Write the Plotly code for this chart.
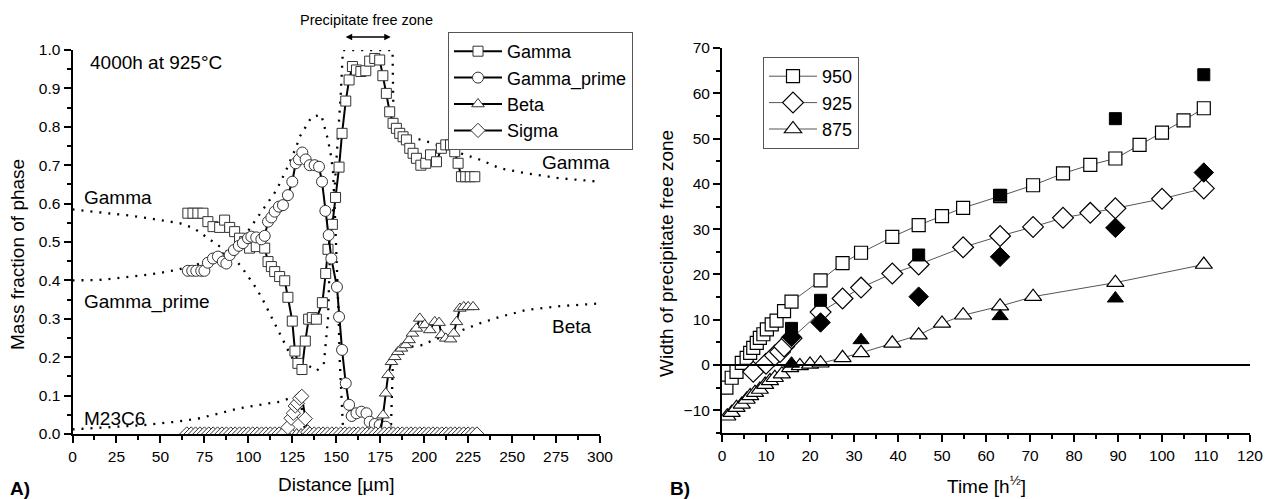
import plotly.graph_objects as go

# ---------------- Panel A data (distance in µm, mass fraction) ----------------
gamma_x = [65.6, 68.5, 71.3, 74.2, 77.0, 79.9, 83.7, 86.5, 89.4, 92.2, 95.0, 97.9, 100.7, 104.5,
           109.3, 111.2, 113.1, 115.0, 117.8, 120.7, 122.5, 125.0, 126.5, 128.2, 130.5, 132.4,
           134.3, 136.4, 138.7, 142.1, 144.0, 145.3, 147.8, 149.6, 151.6, 153.3, 155.4, 157.3,
           159.2, 161.5, 164.0, 166.8, 169.0, 171.9, 174.7, 176.5, 178.5, 180.4, 182.3, 184.2,
           186.1, 188.0, 189.9, 191.8, 193.7, 195.6, 198.1, 200.9, 203.6, 207.0, 209.8, 212.3,
           215.0, 217.4, 219.3, 221.2, 223.6, 226.2, 228.8]
gamma_y = [0.575, 0.575, 0.575, 0.575, 0.553, 0.540, 0.538, 0.557, 0.538, 0.527, 0.510, 0.501,
           0.484, 0.488, 0.484, 0.449, 0.436, 0.423, 0.410, 0.399, 0.356, 0.294, 0.216, 0.184,
           0.168, 0.242, 0.299, 0.303, 0.299, 0.342, 0.418, 0.481, 0.546, 0.616, 0.695, 0.783,
           0.867, 0.922, 0.957, 0.948, 0.944, 0.946, 0.971, 0.978, 0.974, 0.933, 0.887, 0.839,
           0.809, 0.796, 0.783, 0.774, 0.766, 0.744, 0.731, 0.718, 0.700, 0.705, 0.727, 0.709,
           0.744, 0.753, 0.753, 0.735, 0.705, 0.670, 0.670, 0.670, 0.670]

gprime_x = [65.6, 68.1, 70.4, 73.2, 75.0, 77.0, 79.9, 82.7, 85.5, 87.5, 89.4, 91.8, 94.6, 96.9,
            99.8, 101.7, 104.5, 107.4, 109.3, 111.2, 113.1, 115.0, 117.4, 119.7, 122.5, 125.0,
            126.9, 128.8, 130.7, 132.6, 134.9, 137.7, 140.2, 141.9, 143.8, 145.7, 147.2, 150.4,
            151.6, 153.3, 155.4, 157.3, 158.8, 161.5, 164.3, 167.2, 169.0, 171.9, 174.7, 178.1]
gprime_y = [0.425, 0.425, 0.425, 0.425, 0.425, 0.446, 0.457, 0.462, 0.449, 0.444, 0.466, 0.479,
            0.490, 0.497, 0.510, 0.514, 0.512, 0.507, 0.516, 0.553, 0.564, 0.579, 0.592, 0.596,
            0.622, 0.657, 0.705, 0.715, 0.733, 0.715, 0.700, 0.700, 0.696, 0.657, 0.581, 0.518,
            0.457, 0.383, 0.305, 0.219, 0.132, 0.076, 0.047, 0.054, 0.058, 0.054, 0.032, 0.026,
            0.023, 0.019]

beta_x = [176.6, 178.1, 179.5, 181.4, 183.3, 185.1, 187.1, 189.5, 191.4, 193.3, 195.6, 197.5,
          200.3, 203.2, 206.0, 208.5, 209.8, 212.3, 215.0, 216.8, 218.4, 220.3, 222.5, 225.0, 227.8]
beta_y = [0.049, 0.106, 0.154, 0.188, 0.201, 0.214, 0.223, 0.232, 0.245, 0.262, 0.275, 0.301,
          0.284, 0.271, 0.292, 0.290, 0.258, 0.249, 0.247, 0.262, 0.292, 0.327, 0.331, 0.331, 0.331]

sigma_x = [122.5, 124.3, 125.6, 126.7, 127.9, 129.2, 130.4, 132.4, 133.8]
sigma_y = [0.017, 0.041, 0.054, 0.073, 0.080, 0.093, 0.098, 0.040, 0.005]

# measurement positions where beta / sigma are zero (dense row on the axis)
baseline_distance = [65.0, 67.5, 70.0, 72.5, 75.0, 77.5, 80.0, 82.5, 85.0, 87.5, 90.0, 92.5, 95.0,
                     97.5, 100.0, 102.5, 105.0, 107.5, 110.0, 112.5, 115.0, 117.5, 120.0, 122.5,
                     125.0, 127.5, 130.0, 132.5, 135.0, 137.5, 140.0, 142.5, 145.0, 147.5, 150.0,
                     152.5, 155.0, 157.5, 160.0, 162.5, 165.0, 167.5, 170.0, 172.5, 175.0, 177.5,
                     180.0, 182.5, 185.0, 187.5, 190.0, 192.5, 195.0, 197.5, 200.0, 202.5, 205.0,
                     207.5, 210.0, 212.5, 215.0, 217.5, 220.0, 222.5, 225.0, 227.5, 230.0]

# simulated (dotted) profiles
sim_gamma_x = [0, 15, 34, 50, 61, 69, 76, 84, 89.4, 96, 104.6, 108.3, 114, 119.7, 123.5, 127.3,
               130, 134, 139, 143, 145.3, 146.3, 148.5, 150.5, 152.5, 153.8, 165, 182, 182.6, 186,
               192, 205, 218, 232, 243, 258, 277, 300]
sim_gamma_y = [0.585, 0.578, 0.568, 0.557, 0.549, 0.536, 0.514, 0.488, 0.470, 0.436, 0.379, 0.349,
               0.297, 0.245, 0.210, 0.180, 0.150, 0.178, 0.165, 0.185, 0.300, 0.450, 0.600, 0.750,
               0.880, 1.000, 1.000, 1.000, 0.810, 0.790, 0.774, 0.757, 0.735, 0.714, 0.692, 0.679,
               0.666, 0.657]
sim_gprime_x = [0, 4, 15, 34, 48, 59, 70, 80, 90, 97, 103.6, 108.3, 112, 116, 121.6, 127.3, 129.2,
                136, 141.5, 145.3, 147.2, 148.2, 149.1, 149.8, 150.4, 151.2, 152.0, 153.0, 153.8, 155]
sim_gprime_y = [0.400, 0.400, 0.401, 0.410, 0.418, 0.427, 0.440, 0.458, 0.480, 0.510, 0.553, 0.583,
                0.609, 0.635, 0.688, 0.748, 0.774, 0.826, 0.831, 0.766, 0.720, 0.680, 0.590, 0.510,
                0.430, 0.330, 0.190, 0.100, 0.020, 0.000]
sim_beta_x = [181, 181.5, 182.3, 186.1, 191.8, 199.4, 205.1, 214.6, 224.1, 231.6, 243, 258.2, 277.2, 300]
sim_beta_y = [0.0, 0.10, 0.200, 0.219, 0.227, 0.232, 0.245, 0.258, 0.275, 0.288, 0.305, 0.323, 0.333, 0.340]
sim_m23_x = [0, 21, 40, 59, 72.3, 83.7, 95, 106.4, 117.8, 123.5, 129.2, 131, 132.5]
sim_m23_y = [0.012, 0.017, 0.023, 0.032, 0.041, 0.054, 0.067, 0.076, 0.084, 0.093, 0.100, 0.050, 0.0]

# ---------------- Panel B data (sqrt time, width of PFZ) ----------------
t950 = [1.0, 2.2, 3.3, 4.5, 5.6, 6.4, 7.1, 7.9, 8.6, 9.4, 10.2, 11.3, 12.4, 14.1, 15.8, 22.4, 27.4,
        31.6, 38.7, 44.7, 50.0, 54.8, 63.2, 70.7, 77.5, 83.7, 89.4, 94.9, 100.0, 104.9, 109.5]
w950 = [-5.0, -2.8, -1.5, 0.5, 1.6, 2.7, 3.8, 4.9, 6.0, 6.8, 7.9, 9.0, 9.8, 11.9, 14.0, 18.7, 22.5,
        24.8, 28.3, 30.9, 32.9, 34.7, 37.3, 39.7, 42.3, 44.2, 45.6, 48.6, 51.3, 54.0, 56.7]
t925 = [7.1, 10.0, 12.0, 13.2, 14.1, 15.8, 22.4, 27.4, 31.6, 38.7, 44.7, 54.8, 63.2, 70.7, 77.5,
        83.7, 89.4, 100.0, 109.5]
w925 = [-1.5, 0.3, 2.1, 2.9, 4.1, 5.9, 11.7, 14.7, 17.1, 20.2, 22.2, 26.0, 28.5, 30.5, 32.5, 33.6,
        34.6, 36.7, 39.0]
t875 = [1.2, 2.2, 3.3, 4.5, 5.6, 6.4, 7.5, 8.6, 9.8, 10.9, 12.0, 13.6, 15.5, 17.7, 20.0, 22.4, 27.4,
        31.6, 38.7, 44.7, 50.0, 54.8, 63.2, 70.7, 89.4, 109.5]
w875 = [-11.3, -10.5, -9.4, -8.7, -7.6, -6.8, -6.1, -5.4, -4.3, -3.5, -2.8, -2.0, -0.6, -0.2, 0.15,
        0.4, 1.6, 2.7, 4.8, 6.6, 9.2, 11.0, 13.0, 15.1, 18.2, 22.2]
exp_t950 = [15.8, 22.4, 44.7, 63.2, 89.4, 109.5]
exp_w950 = [8.1, 14.3, 24.3, 37.5, 54.4, 64.1]
exp_t925 = [15.8, 22.4, 44.7, 63.2, 89.4, 109.5]
exp_w925 = [6.2, 9.4, 15.1, 23.9, 30.3, 42.5]
exp_t875 = [15.8, 31.6, 63.2, 89.4]
exp_w875 = [0.3, 5.5, 10.8, 14.7]

FONT = "Arial, 'Liberation Sans', sans-serif"
W, H = 1265, 499

fig = go.Figure()

def dotted(x, y):
    fig.add_trace(go.Scatter(x=x, y=y, mode="lines", xaxis="x", yaxis="y", showlegend=False,
                             hoverinfo="skip",
                             line=dict(color="black", width=2.3, dash="2px,7px")))

dotted(sim_gamma_x, sim_gamma_y)
dotted(sim_gprime_x, sim_gprime_y)
dotted(sim_beta_x, sim_beta_y)
dotted(sim_m23_x, sim_m23_y)

mk_line = dict(color="#333333", width=1)

beta_zero_x = [d for d in baseline_distance if d < beta_x[0]]
sig_left = [d for d in baseline_distance if d < sigma_x[0]]
sig_right = [d for d in baseline_distance if d > sigma_x[-1] + 1]

fig.add_trace(go.Scatter(
    x=gamma_x, y=gamma_y, mode="lines+markers", name="Gamma", xaxis="x", yaxis="y",
    line=dict(color="black", width=2),
    marker=dict(symbol="square", size=10, color="white", line=mk_line), legend="legend"))
fig.add_trace(go.Scatter(
    x=gprime_x, y=gprime_y, mode="lines+markers", name="Gamma_prime", xaxis="x", yaxis="y",
    line=dict(color="black", width=2),
    marker=dict(symbol="circle", size=11, color="white", line=mk_line), legend="legend"))
fig.add_trace(go.Scatter(
    x=beta_zero_x + beta_x, y=[0.0] * len(beta_zero_x) + beta_y, mode="lines+markers",
    name="Beta", xaxis="x", yaxis="y",
    line=dict(color="black", width=2),
    marker=dict(symbol="triangle-up", size=11, color="white", line=mk_line), legend="legend"))
fig.add_trace(go.Scatter(
    x=sig_left + sigma_x + sig_right,
    y=[0.0] * len(sig_left) + sigma_y + [0.0] * len(sig_right), mode="lines+markers",
    name="Sigma", xaxis="x", yaxis="y",
    line=dict(color="black", width=2),
    marker=dict(symbol="diamond", size=11, color="white", line=mk_line), legend="legend"))

# Panel B
bl = dict(color="#555555", width=1)
bm = dict(color="black", width=1.2)
fig.add_trace(go.Scatter(x=t950, y=w950, mode="lines+markers", name="950", xaxis="x2", yaxis="y2",
                         line=bl, marker=dict(symbol="square", size=13, color="white", line=bm),
                         legend="legend2"))
fig.add_trace(go.Scatter(x=t925, y=w925, mode="lines+markers", name="925", xaxis="x2", yaxis="y2",
                         line=bl, marker=dict(symbol="diamond", size=16, color="white", line=bm),
                         legend="legend2"))
fig.add_trace(go.Scatter(x=t875, y=w875, mode="lines+markers", name="875", xaxis="x2", yaxis="y2",
                         line=bl, marker=dict(symbol="triangle-up", size=15, color="white", line=bm),
                         legend="legend2"))
for tx, wy, sym, sz in [(exp_t950, exp_w950, "square", 12), (exp_t925, exp_w925, "diamond", 15),
                        (exp_t875, exp_w875, "triangle-up", 14)]:
    fig.add_trace(go.Scatter(x=tx, y=wy, mode="markers", xaxis="x2", yaxis="y2", showlegend=False,
                             marker=dict(symbol=sym, size=sz, color="black",
                                         line=dict(color="black", width=1))))

ax_common = dict(showline=True, linecolor="black", linewidth=2, ticks="outside", ticklen=7,
                 tickwidth=1.5, tickcolor="black", showgrid=False, zeroline=False,
                 tickfont=dict(family=FONT, size=15.5, color="black"), automargin=False)

fig.update_layout(
    width=W, height=H, margin=dict(l=0, r=0, t=0, b=0),
    paper_bgcolor="white", plot_bgcolor="white",
    font=dict(family=FONT, color="black"),
    xaxis=dict(domain=[72.5 / W, 600 / W], range=[0, 300], dtick=25, anchor="y",
               minor=dict(ticks="outside", ticklen=4, dtick=12.5, tickcolor="black", tickwidth=1.5),
               **ax_common),
    yaxis=dict(domain=[(H - 434) / H, (H - 50) / H], range=[0, 1.0], dtick=0.1, tickformat=".1f",
               anchor="x",
               minor=dict(ticks="outside", ticklen=4, dtick=0.05, tickcolor="black", tickwidth=1.5),
               **ax_common),
    xaxis2=dict(domain=[722 / W, 1250 / W], range=[0, 120], dtick=10, anchor="y2",
                minor=dict(ticks="outside", ticklen=4, dtick=5, tickcolor="black", tickwidth=1.5),
                **ax_common),
    yaxis2=dict(domain=[(H - 433) / H, (H - 48) / H], range=[-15, 70], dtick=10, anchor="x2",
                tickvals=[-10, 0, 10, 20, 30, 40, 50, 60, 70],
                minor=dict(ticks="outside", ticklen=4, dtick=5, tickcolor="black", tickwidth=1.5),
                **ax_common),
    legend=dict(x=448 / W, y=1 - 32 / H, xanchor="left", yanchor="top",
                bordercolor="#555555", borderwidth=1, bgcolor="white",
                font=dict(family=FONT, size=18, color="black"), tracegroupgap=0,
                itemwidth=48),
    legend2=dict(x=763 / W, y=1 - 57 / H, xanchor="left", yanchor="top",
                 bordercolor="#555555", borderwidth=1, bgcolor="white",
                 font=dict(family=FONT, size=18, color="black"), itemwidth=48),
    showlegend=True,
)

# zero reference line in panel B
fig.add_shape(type="line", xref="x2", yref="y2", x0=0, x1=120, y0=0, y1=0,
              line=dict(color="black", width=2))

def txt(text, x, y, size=19, xanchor="left", angle=0, bold=False, yanchor="middle"):
    fig.add_annotation(text=("<b>%s</b>" % text) if bold else text, x=x / W, y=1 - y / H,
                       xref="paper", yref="paper", showarrow=False, xanchor=xanchor,
                       yanchor=yanchor, textangle=angle,
                       font=dict(family=FONT, size=size, color="black"))

txt("4000h at 925°C", 88, 62)
txt("Gamma", 82, 197)
txt("Gamma_prime", 82, 302)
txt("M23C6", 82, 418)
txt("Gamma", 540, 162)
txt("Beta", 550, 326)
txt("Precipitate free zone", 366, 20, size=14.5, xanchor="center")
txt("Mass fraction of phase", 18, 255, size=19, xanchor="center", angle=-90)
txt("Distance [µm]", 336, 484, size=19, xanchor="center")
txt("Width of precipitate free zone", 667, 253, size=19, xanchor="center", angle=-90)
txt("Time [h<sup>½</sup>]", 986, 485, size=19, xanchor="center")
txt("A)", 8, 488, size=19, bold=True)
txt("B)", 668, 488, size=19, bold=True)

# double-headed arrow above the precipitate free zone
fig.add_annotation(x=181.0, y=1 - 37 / H, xref="x", yref="paper", ax=154.5, ay=0,
                   axref="x", ayref="pixel", showarrow=True, arrowhead=2, arrowside="end+start",
                   arrowsize=1, arrowwidth=1.3, arrowcolor="black", text="")

fig.write_html("out.html", config={"displayModeBar": False},
               post_script="document.body.style.margin='0px';document.body.style.overflow='hidden';")
